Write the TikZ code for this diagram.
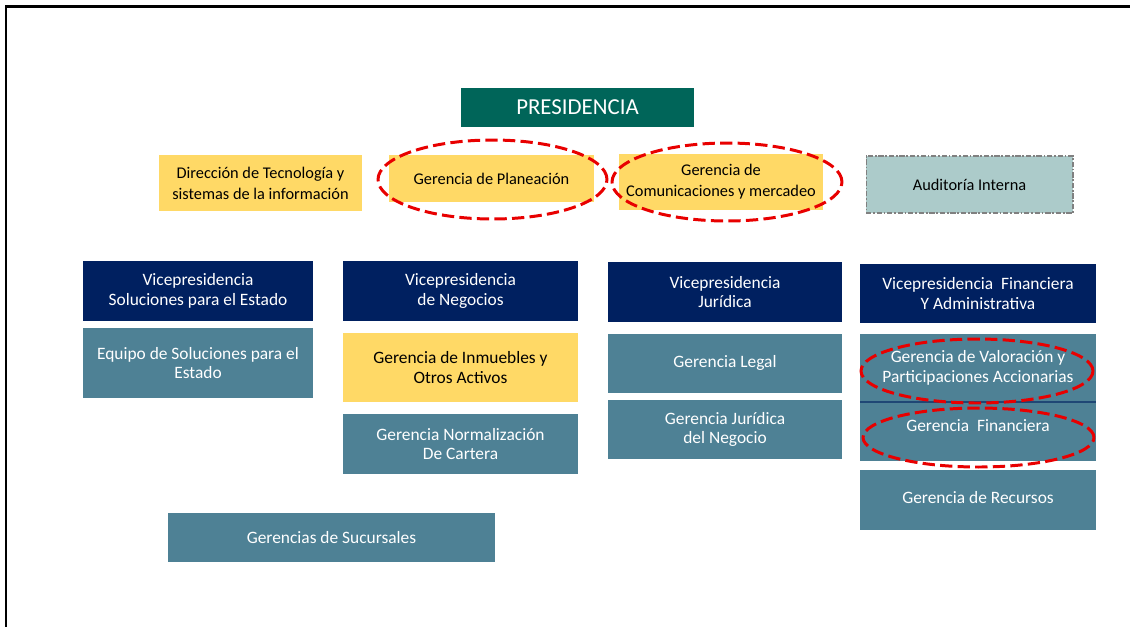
\documentclass[tikz,border=0pt]{standalone}
\usepackage{fontspec}
\setmainfont{Carlito}
\usetikzlibrary{shapes.geometric}
\definecolor{verdepres}{RGB}{0,101,89}
\definecolor{amarillo}{RGB}{255,217,102}
\definecolor{azulvp}{RGB}{0,32,96}
\definecolor{azulger}{RGB}{78,129,149}
\definecolor{grisaud}{RGB}{172,203,202}
\definecolor{rojomarca}{RGB}{232,0,0}
\begin{document}
\begin{tikzpicture}[x=0.02cm, y=-0.02cm,
  caja/.style={inner sep=2pt, outer sep=0pt, align=center, font=\fontsize{9.9}{11.3}\selectfont},
  vp/.style={caja, fill=azulvp, text=white},
  ger/.style={caja, fill=azulger, text=white},
  apoyo/.style={caja, fill=amarillo, text=black},
  arriba/.style={font=\fontsize{9.3}{12}\selectfont},
  marca/.style={ellipse, inner sep=0pt, draw=rojomarca, line width=1.7pt, dash pattern=on 7pt off 3pt}]
\useasboundingbox (0,0) rectangle (1130,627);
\draw[line width=1.7pt] (1130,6) -- (6,6) -- (6,627);

\node[caja, fill=verdepres, text=white, font=\fontsize{13}{15}\selectfont, minimum width=4.66cm, minimum height=0.78cm] (pres) at (577.5,107.5) {PRESIDENCIA};
\node[apoyo, arriba, minimum width=4.06cm, minimum height=1.12cm] (tecno) at (260.5,183) {Dirección de Tecnología y\\sistemas de la información};
\node[apoyo, arriba, minimum width=4.1cm, minimum height=0.94cm] (plan) at (491.5,178.5) {Gerencia de Planeación};
\node[apoyo, arriba, minimum width=4.08cm, minimum height=1.12cm] (comun) at (721,182) {Gerencia de\\Comunicaciones y mercadeo};
\node[caja, arriba, fill=grisaud, draw=gray, line width=0.6pt, dash pattern=on 3pt off 1pt on 1pt off 1pt, minimum width=4.14cm, minimum height=1.14cm] (audit) at (969.5,184.5) {Auditoría Interna};

\node[vp, minimum width=4.6cm, minimum height=1.2cm] (vpsol) at (198,291) {Vicepresidencia\\Soluciones para el Estado};
\node[vp, minimum width=4.7cm, minimum height=1.2cm] (vpneg) at (460.5,291) {Vicepresidencia\\de Negocios};
\node[vp, minimum width=4.68cm, minimum height=1.2cm] (vpjur) at (725,292) {Vicepresidencia\\Jurídica};
\node[vp, minimum width=4.72cm, minimum height=1.18cm] (vpfin) at (978,293.5) {Vicepresidencia~~Financiera\\Y Administrativa};

\node[ger, minimum width=4.6cm, minimum height=1.4cm] (equipo) at (198,363) {Equipo de Soluciones para el\\Estado};
\node[apoyo, minimum width=4.7cm, minimum height=1.38cm] (inmue) at (460.5,367.5) {Gerencia de Inmuebles y\\Otros Activos};
\node[ger, minimum width=4.7cm, minimum height=1.2cm] (normal) at (460.5,444) {Gerencia Normalización\\De Cartera};
\node[ger, minimum width=4.68cm, minimum height=1.18cm] (legal) at (725,363.5) {\raisebox{2pt}{Gerencia Legal}};
\node[ger, minimum width=4.68cm, minimum height=1.18cm] (jurneg) at (725,429.5) {Gerencia Jurídica\\del Negocio};
\node[ger, minimum width=4.72cm, minimum height=1.36cm] (valor) at (978,368) {Gerencia de Valoración y\\Participaciones Accionarias};
\node[ger, minimum width=4.72cm, minimum height=1.18cm] (finan) at (978,431.5) {Gerencia~~Financiera\\[-5pt]};
\node[ger, minimum width=4.72cm, minimum height=1.2cm] (recur) at (978,500) {\raisebox{3pt}{Gerencia de Recursos}};
\node[ger, minimum width=6.54cm, minimum height=0.98cm] (sucur) at (331.5,537.5) {Gerencias de Sucursales};
\draw[azulvp!60!azulger, line width=0.8pt] (valor.south west) -- (valor.south east);

% marcas rojas
\node[marca, minimum width=4.58cm, minimum height=1.58cm] (oplan) at (492.5,179.5) {};
\node[marca, minimum width=4.6cm, minimum height=1.56cm] (ocomun) at (727,182) {};
\node[marca, minimum width=4.64cm, minimum height=1.28cm] (ovalor) at (977,371) {};
\node[marca, minimum width=4.62cm, minimum height=1.18cm] (ofinan) at (978.5,437.5) {};
\end{tikzpicture}
\end{document}
